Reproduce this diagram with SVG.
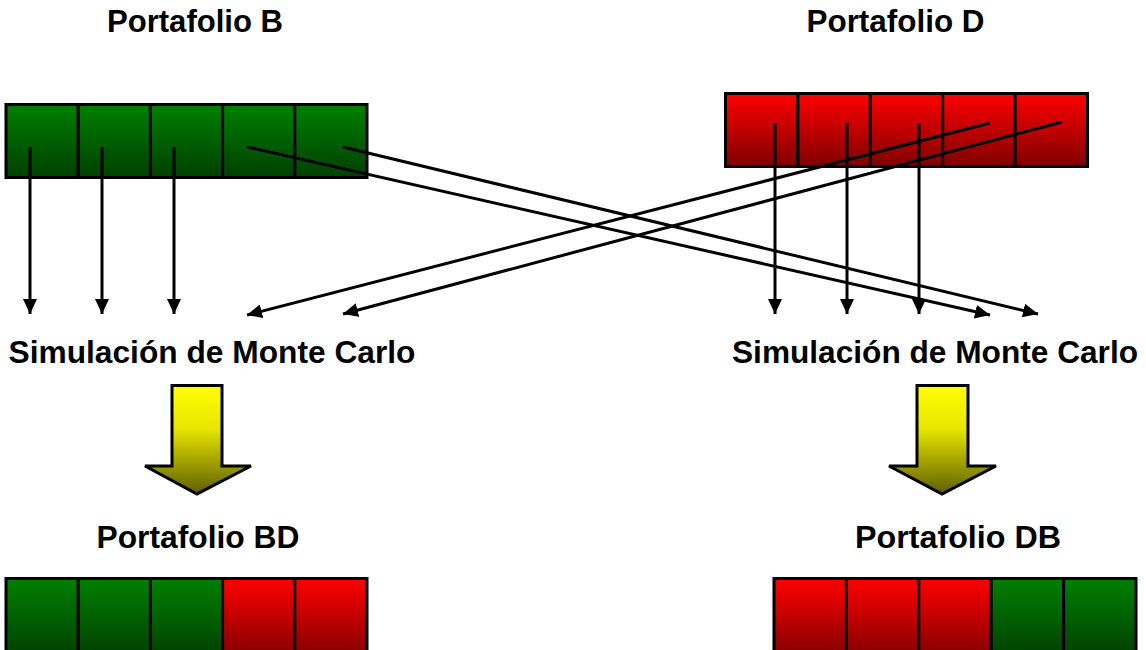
<svg xmlns="http://www.w3.org/2000/svg" width="1146" height="650" viewBox="0 0 1146 650">
<defs>
<linearGradient id="gGreen" x1="0" y1="0" x2="0" y2="1">
<stop offset="0" stop-color="#008000"/>
<stop offset="1" stop-color="#003f00"/>
</linearGradient>
<linearGradient id="gRed" x1="0" y1="0" x2="0" y2="1">
<stop offset="0" stop-color="#ff0000"/>
<stop offset="1" stop-color="#7f0000"/>
</linearGradient>
<linearGradient id="gYellow" x1="0" y1="0" x2="0" y2="1">
<stop offset="0" stop-color="#ffff00"/>
<stop offset="0.4" stop-color="#e6e600"/>
<stop offset="1" stop-color="#5e5e00"/>
</linearGradient>
<marker id="ah" markerUnits="userSpaceOnUse" markerWidth="16" markerHeight="14" refX="15" refY="7" orient="auto">
<path d="M0,0 L15,7 L0,14 Z" fill="#000"/>
</marker>
</defs>
<style>
.t{font-family:"Liberation Sans",Arial,sans-serif;font-weight:bold;font-size:31px;fill:#000;text-anchor:middle}
.g{fill:url(#gGreen);stroke:#000;stroke-width:3}
.r{fill:url(#gRed);stroke:#000;stroke-width:3}
.c{stroke:#000;stroke-width:3;fill:none;marker-end:url(#ah)}
.y{fill:url(#gYellow);stroke:#000;stroke-width:3;stroke-linejoin:miter}
</style>
<rect width="1146" height="650" fill="#fff"/>

<g id="portafolioB">
<rect class="g" x="6" y="104.5" width="72.2" height="73"/>
<rect class="g" x="78.2" y="104.5" width="72.2" height="73"/>
<rect class="g" x="150.4" y="104.5" width="72.2" height="73"/>
<rect class="g" x="222.6" y="104.5" width="72.2" height="73"/>
<rect class="g" x="294.8" y="104.5" width="72.2" height="73"/>
<text class="t" x="195" y="32" textLength="176" lengthAdjust="spacingAndGlyphs">Portafolio B</text>
</g>

<g id="portafolioD">
<rect class="r" x="725.5" y="93.5" width="72.4" height="73"/>
<rect class="r" x="797.9" y="93.5" width="72.4" height="73"/>
<rect class="r" x="870.3" y="93.5" width="72.4" height="73"/>
<rect class="r" x="942.7" y="93.5" width="72.4" height="73"/>
<rect class="r" x="1015.1" y="93.5" width="72.4" height="73"/>
<text class="t" x="895.5" y="32" textLength="178" lengthAdjust="spacingAndGlyphs">Portafolio D</text>
</g>

<g id="connectors">
<line class="c" x1="30" y1="147" x2="30" y2="314"/>
<line class="c" x1="102" y1="147" x2="102" y2="314"/>
<line class="c" x1="174" y1="147" x2="174" y2="314"/>
<line class="c" x1="247" y1="147" x2="990" y2="315"/>
<line class="c" x1="343" y1="147" x2="1038" y2="314"/>
<line class="c" x1="775" y1="123" x2="775" y2="314"/>
<line class="c" x1="847" y1="123" x2="847" y2="314"/>
<line class="c" x1="919" y1="123" x2="919" y2="314"/>
<line class="c" x1="990" y1="123" x2="247" y2="315"/>
<line class="c" x1="1062" y1="122" x2="343" y2="314"/>
</g>

<g id="simLeft">
<text class="t" x="212" y="363" textLength="407" lengthAdjust="spacingAndGlyphs">Simulación de Monte Carlo</text>
</g>
<g id="simRight">
<text class="t" x="935" y="363" textLength="406" lengthAdjust="spacingAndGlyphs">Simulación de Monte Carlo</text>
</g>

<g id="arrowLeft">
<path class="y" d="M172,385.5 L222,385.5 L222,466 L251,466 L197,494 L145,466 L172,466 Z"/>
</g>
<g id="arrowRight">
<path class="y" d="M917,385.5 L968,385.5 L968,466 L996,466 L942,494 L889,466 L917,466 Z"/>
</g>

<g id="portafolioBD">
<text class="t" x="198" y="548" textLength="203" lengthAdjust="spacingAndGlyphs">Portafolio BD</text>
<rect class="g" x="6" y="578.5" width="72.2" height="80"/>
<rect class="g" x="78.2" y="578.5" width="72.2" height="80"/>
<rect class="g" x="150.4" y="578.5" width="72.2" height="80"/>
<rect class="r" x="222.6" y="578.5" width="72.2" height="80"/>
<rect class="r" x="294.8" y="578.5" width="72.2" height="80"/>
</g>

<g id="portafolioDB">
<text class="t" x="958" y="548" textLength="206" lengthAdjust="spacingAndGlyphs">Portafolio DB</text>
<rect class="r" x="774" y="578.5" width="72.4" height="80"/>
<rect class="r" x="846.4" y="578.5" width="72.4" height="80"/>
<rect class="r" x="918.8" y="578.5" width="72.4" height="80"/>
<rect class="g" x="991.2" y="578.5" width="72.4" height="80"/>
<rect class="g" x="1063.6" y="578.5" width="72.4" height="80"/>
</g>
</svg>
